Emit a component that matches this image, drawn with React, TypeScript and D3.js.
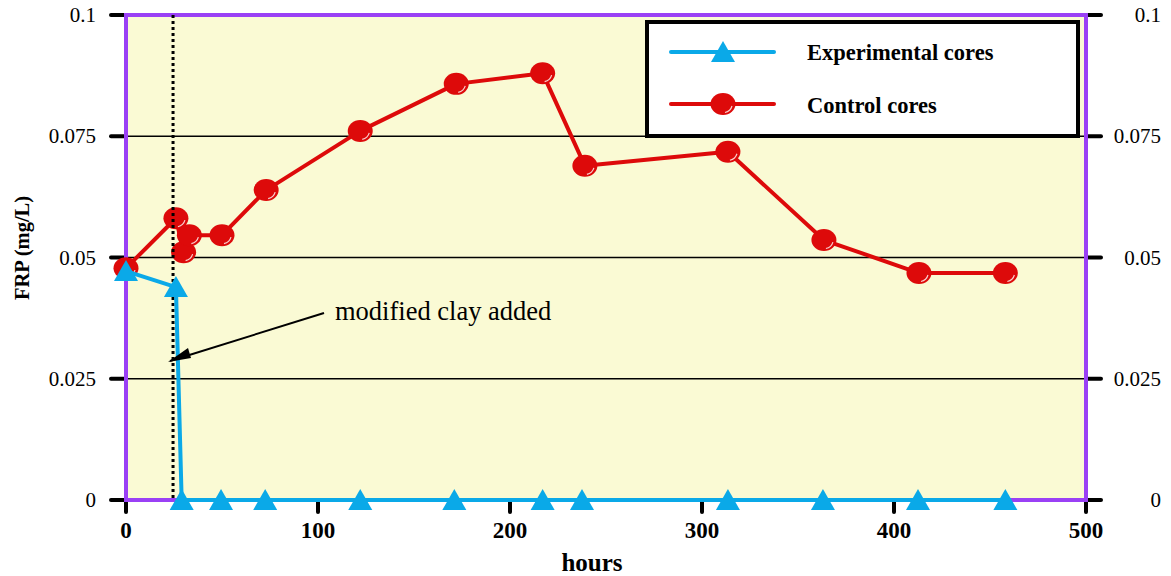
import React from "react";
import * as d3 from "d3";

const controlHours = [0, 26, 30, 33, 50, 73, 122, 172, 217, 239, 313.5, 363.5, 413, 458];
const controlFRP = [0.0478, 0.0581, 0.0511, 0.0546, 0.0546, 0.0639, 0.0761, 0.0858, 0.088, 0.0689, 0.0718, 0.0536, 0.0468, 0.0468];
const expHours = [0, 26, 29, 49.5, 72.5, 122, 171, 217, 237.5, 313.5, 363, 412.5, 458];
const expFRP = [0.0472, 0.0439, 0, 0, 0, 0, 0, 0, 0, 0, 0, 0, 0];
const xTicks = [0, 100, 200, 300, 400, 500];
const yTicks = [0, 0.025, 0.05, 0.075, 0.1];
const yTickLabels = ["0", "0.025", "0.05", "0.075", "0.1"];
const clayHour = 24.5;

const W = 1171, H = 576;
const L = 126, R = 1086, T = 15, B = 500;
const serif = "'Liberation Serif', 'Times New Roman', serif";
const RED = "#dd0a0a";
const CYAN = "#0aa9e8";
const PURPLE = "#9a40f5";

function Circle({ cx, cy }: { cx: number; cy: number }) {
  return (
    <g>
      <ellipse cx={cx} cy={cy} rx={12.5} ry={11} fill={RED} />
      <path d={`M${cx + 9},${cy + 2} A 10 9 0 0 1 ${cx + 2},${cy + 8.5}`} fill="none" stroke="#ffffff" strokeWidth={1.2} opacity={0.8} />
    </g>
  );
}

function Tri({ cx, cy }: { cx: number; cy: number }) {
  return <path d={`M${cx},${cy - 11} L${cx + 12},${cy + 10} L${cx - 12},${cy + 10} Z`} fill={CYAN} />;
}

export default function App() {
  const x = d3.scaleLinear().domain([0, 500]).range([L, R]);
  const y = d3.scaleLinear().domain([0, 0.1]).range([B, T]);
  const ctrl = controlHours.map((h, i) => [x(h), y(controlFRP[i])] as [number, number]);
  const exp = expHours.map((h, i) => [x(h), y(expFRP[i])] as [number, number]);
  const line = d3.line();

  return (
    <svg width={W} height={H} style={{ position: "absolute", left: 0, top: 0, background: "#fff" }} fontFamily={serif}>
      <rect x={L} y={T} width={R - L} height={B - T} fill="#fafad4" />
      {yTicks.filter((t) => t > 0 && t < 0.1).map((t) => (
        <line key={t} x1={L} x2={R} y1={y(t)} y2={y(t)} stroke="#000" strokeWidth={1.6} />
      ))}
      {yTicks.map((t) => (
        <g key={"yt" + t}>
          <line x1={L - 15} x2={L} y1={y(t)} y2={y(t)} stroke="#000" strokeWidth={4} strokeLinecap="round" />
          <line x1={R} x2={R + 15} y1={y(t)} y2={y(t)} stroke="#000" strokeWidth={4} strokeLinecap="round" />
        </g>
      ))}
      {xTicks.map((t) => (
        <line key={"xt" + t} x1={x(t)} x2={x(t)} y1={B} y2={B + 12} stroke="#000" strokeWidth={4} strokeLinecap="round" />
      ))}
      <rect x={L} y={T} width={R - L} height={B - T} fill="none" stroke={PURPLE} strokeWidth={4} />
      {yTicks.map((t, i) => (
        <text key={"yl" + t} x={96} y={y(t) + 7} textAnchor="end" fontSize={21}>{yTickLabels[i]}</text>
      ))}
      {yTicks.map((t, i) => (
        <text key={"yr" + t} x={1161} y={y(t) + 7} textAnchor="end" fontSize={21}>{yTickLabels[i]}</text>
      ))}
      {xTicks.map((t) => (
        <text key={"xl" + t} x={x(t)} y={538} textAnchor="middle" fontSize={23} fontWeight="bold">{t}</text>
      ))}
      <text x={592} y={571} textAnchor="middle" fontSize={25} fontWeight="bold">hours</text>
      <text transform={`translate(29,${248}) rotate(-90)`} textAnchor="middle" fontSize={20.5} fontWeight="bold">FRP (mg/L)</text>

      <path d={line(ctrl) || ""} fill="none" stroke={RED} strokeWidth={4} strokeLinejoin="round" />
      {ctrl.map((p, i) => <Circle key={"c" + i} cx={p[0]} cy={p[1]} />)}

      <line x1={x(clayHour)} x2={x(clayHour)} y1={T} y2={B} stroke="#000" strokeWidth={3} strokeDasharray="3,3" />

      <path d={line(exp) || ""} fill="none" stroke={CYAN} strokeWidth={4} strokeLinejoin="round" />
      {exp.map((p, i) => <Tri key={"e" + i} cx={p[0]} cy={p[1]} />)}

      <line x1={324} y1={313} x2={170} y2={361} stroke="#000" strokeWidth={2} />
      <path d="M168,362 L188,348 L191,358 Z" fill="#000" />
      <text x={335} y={320} fontSize={26.5}>modified clay added</text>

      <rect x={647} y={22} width={431} height={114} fill="#fff" stroke="#000" strokeWidth={4} />
      <line x1={671} x2={774} y1={52} y2={52} stroke={CYAN} strokeWidth={4} strokeLinecap="round" />
      <Tri cx={723} cy={52} />
      <text x={807} y={60} fontSize={22.5} fontWeight="bold">Experimental cores</text>
      <line x1={671} x2={774} y1={104} y2={104} stroke={RED} strokeWidth={4} strokeLinecap="round" />
      <Circle cx={723} cy={104} />
      <text x={807} y={113} fontSize={22.5} fontWeight="bold">Control cores</text>
    </svg>
  );
}
